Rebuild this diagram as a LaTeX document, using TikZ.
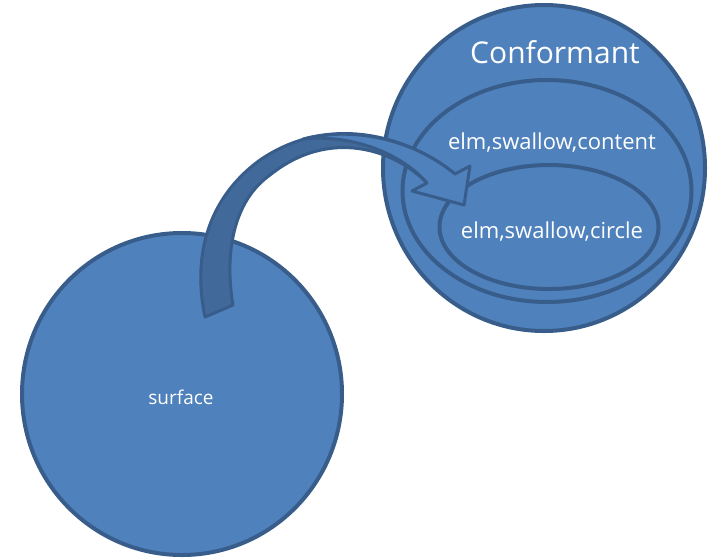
\documentclass[tikz,border=0pt]{standalone}
\usepackage{fontspec}
\setmainfont{Open Sans}
\usetikzlibrary{shapes.geometric}
\definecolor{fillblue}{HTML}{4F81BD}
\definecolor{edgeblue}{HTML}{385D8A}
\definecolor{backblue}{HTML}{41699A}
\begin{document}
\begin{tikzpicture}[x=1pt,y=-1pt,
  blob/.style={ellipse, draw=edgeblue, fill=fillblue, line width=4pt, inner sep=0pt},
  lbl/.style={text=white, inner sep=0pt},
  arrowpart/.style={draw=edgeblue, line width=3pt, line join=round}]
\useasboundingbox (0,0) rectangle (709,558);

% source set
\node[blob, minimum width=320pt, minimum height=322pt] (surf) at (182,394) {};
\node[lbl, font=\fontsize{19}{22}\selectfont] (surft) at (181,397) {surface};

% nested sets on the right
\node[blob, minimum width=322pt, minimum height=326pt] (conf) at (544,168) {};
\node[blob, minimum width=289pt, minimum height=222pt] (cont) at (547,191) {};
\node[blob, minimum width=219pt, minimum height=124pt] (circ) at (549,227) {};
\node[lbl, font=\fontsize{30}{34}\selectfont] (conft) at (555,52) {Conformant};
\node[lbl, font=\fontsize{22}{26}\selectfont] (contt) at (552,143) {elm,swallow,content};
\node[lbl, font=\fontsize{22}{26}\selectfont] (circt) at (552,232) {elm,swallow,circle};

% curved block arrow: full band in the darker back shade
\coordinate (tailout) at (205,317);
\coordinate (tailin) at (233,305);
\coordinate (neckout) at (455,174);
\coordinate (neckin) at (427,183);
\coordinate (barbA) at (470,166);
\coordinate (tip) at (464,205);
\coordinate (barbB) at (412,191);
\filldraw[arrowpart, fill=backblue]
  (tailout) .. controls (193,260) and (205,200) .. (260,160)
  .. controls (330,112) and (410,137) .. (neckout)
  -- (neckin)
  .. controls (395,150) and (330,127) .. (270,175)
  .. controls (228,205) and (226,265) .. (tailin) -- cycle;
% front face of the ribbon, tapering in from the top, with the head
\filldraw[arrowpart, fill=fillblue]
  (303,139) .. controls (350,127) and (410,137) .. (neckout)
  -- (barbA) -- (tip) -- (barbB) -- (neckin)
  .. controls (400,152) and (350,134) .. (303,139) -- cycle;
\end{tikzpicture}
\end{document}
